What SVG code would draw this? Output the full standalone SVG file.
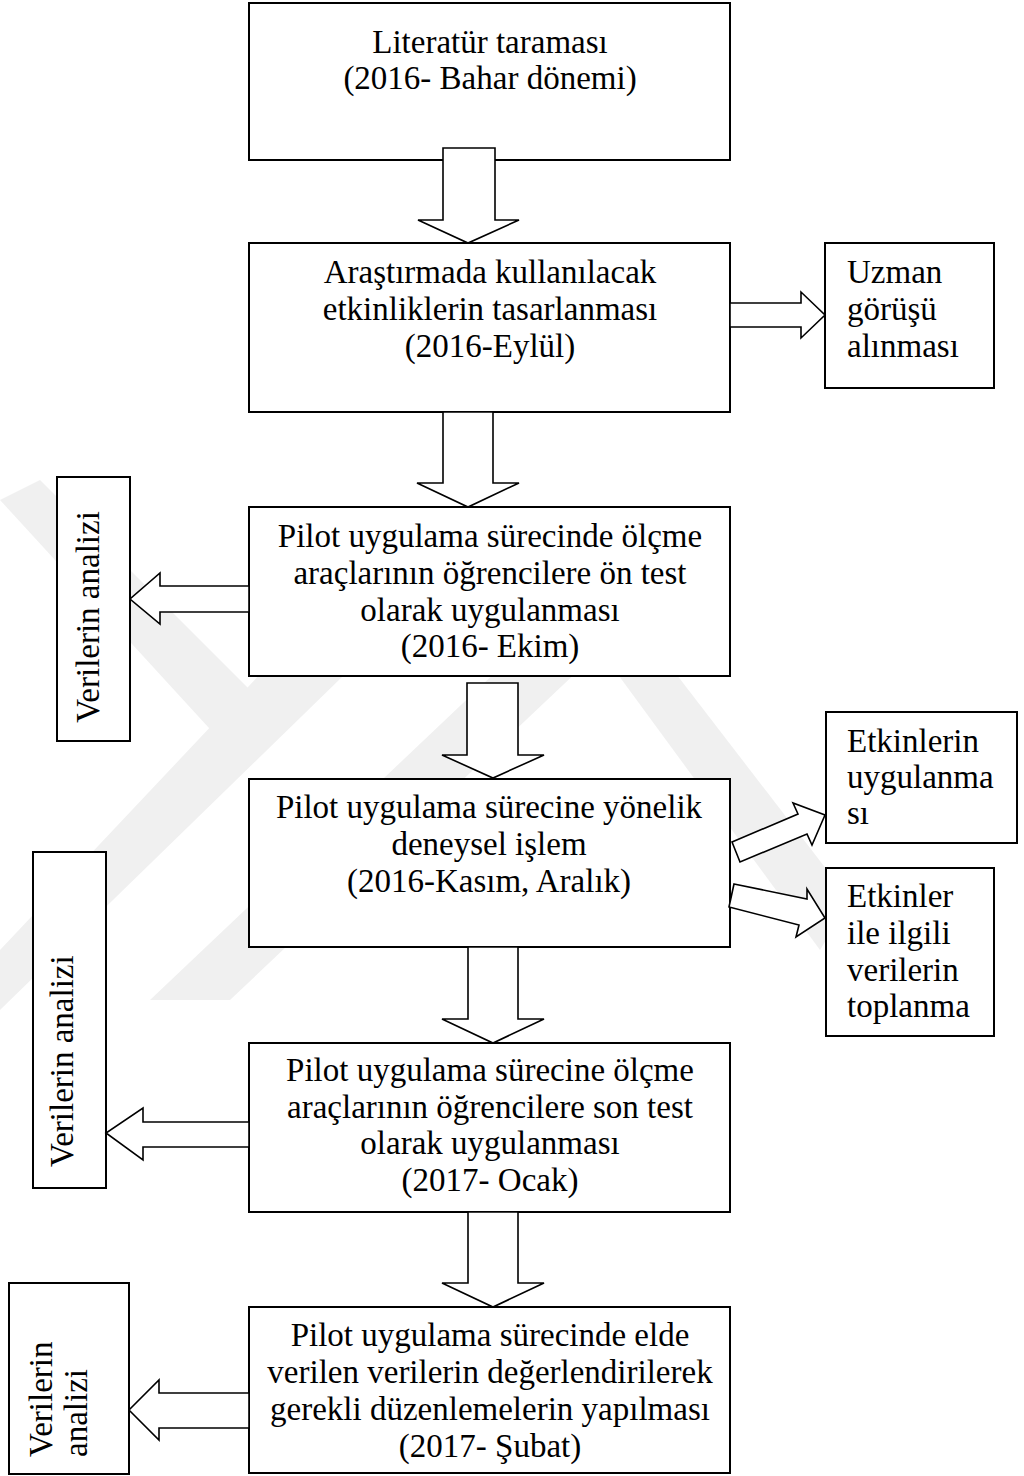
<svg xmlns="http://www.w3.org/2000/svg" width="1024" height="1476" viewBox="0 0 1024 1476">
<style>
.box{fill:#fff;stroke:#000;stroke-width:2}
.arr{fill:#fff;stroke:#000;stroke-width:1.6;stroke-linejoin:miter}
.t{font-family:"Liberation Serif","Times New Roman",serif;font-size:33px;fill:#000}
.c{text-anchor:middle}
.wm{fill:#f0f0f0}
</style>
<rect width="1024" height="1476" fill="#fff"/>
<g id="watermark">
<polygon class="wm" points="0,950 0,1010 380,640 330,600"/>
<polygon class="wm" points="150,1000 230,1000 600,650 540,630"/>
<polygon class="wm" points="600,650 650,640 850,900 820,950"/>
<polygon class="wm" points="0,500 40,480 260,700 220,740"/>
</g>
<g id="node1"><rect class="box" x="249" y="3" width="481" height="157"/>
<text class="t c" x="490" y="53">Literatür taraması</text>
<text class="t c" x="490" y="89">(2016- Bahar dönemi)</text></g>
<g id="node2"><rect class="box" x="249" y="243" width="481" height="169"/>
<text class="t c" x="490" y="283">Araştırmada kullanılacak</text>
<text class="t c" x="490" y="320">etkinliklerin tasarlanması</text>
<text class="t c" x="490" y="357">(2016-Eylül)</text></g>
<g id="node3"><rect class="box" x="825" y="243" width="169" height="145"/>
<text class="t" x="847" y="283">Uzman</text>
<text class="t" x="847" y="320">görüşü</text>
<text class="t" x="847" y="357">alınması</text></g>
<g id="node4"><rect class="box" x="249" y="507" width="481" height="169"/>
<text class="t c" x="490" y="547">Pilot uygulama sürecinde ölçme</text>
<text class="t c" x="490" y="584">araçlarının öğrencilere ön test</text>
<text class="t c" x="490" y="621">olarak uygulanması</text>
<text class="t c" x="490" y="657">(2016- Ekim)</text></g>
<g id="node5"><rect class="box" x="57" y="477" width="73" height="264"/>
<text class="t c" transform="translate(99,617) rotate(-90)">Verilerin analizi</text></g>
<g id="node6"><rect class="box" x="249" y="779" width="481" height="168"/>
<text class="t c" x="489" y="818">Pilot uygulama sürecine yönelik</text>
<text class="t c" x="489" y="855">deneysel işlem</text>
<text class="t c" x="489" y="892">(2016-Kasım, Aralık)</text></g>
<g id="node7"><rect class="box" x="826" y="712" width="191" height="131"/>
<text class="t" x="847" y="752">Etkinlerin</text>
<text class="t" x="847" y="788">uygulanma</text>
<text class="t" x="847" y="824">sı</text></g>
<g id="node8"><rect class="box" x="826" y="868" width="168" height="168"/>
<text class="t" x="847" y="907">Etkinler</text>
<text class="t" x="847" y="944">ile ilgili</text>
<text class="t" x="847" y="981">verilerin</text>
<text class="t" x="847" y="1017">toplanma</text></g>
<g id="node9"><rect class="box" x="249" y="1043" width="481" height="169"/>
<text class="t c" x="490" y="1081">Pilot uygulama sürecine ölçme</text>
<text class="t c" x="490" y="1118">araçlarının öğrencilere son test</text>
<text class="t c" x="490" y="1154">olarak uygulanması</text>
<text class="t c" x="490" y="1191">(2017- Ocak)</text></g>
<g id="node10"><rect class="box" x="33" y="852" width="73" height="336"/>
<text class="t" transform="translate(73,1167) rotate(-90)">Verilerin analizi</text></g>
<g id="node11"><rect class="box" x="249" y="1307" width="481" height="166"/>
<text class="t c" x="490" y="1346">Pilot uygulama sürecinde elde</text>
<text class="t c" x="490" y="1383">verilen verilerin değerlendirilerek</text>
<text class="t c" x="490" y="1420">gerekli düzenlemelerin yapılması</text>
<text class="t c" x="490" y="1457">(2017- Şubat)</text></g>
<g id="node12"><rect class="box" x="9" y="1283" width="120" height="191"/>
<text class="t" transform="translate(52,1457) rotate(-90)">Verilerin</text>
<text class="t" transform="translate(87,1457) rotate(-90)">analizi</text></g>
<g id="connectors">
<polygon class="arr" points="443,148 495,148 495,220 519,220 468,243 418,220 443,220"/>
<polygon class="arr" points="443,412 493,412 493,483 519,483 468,507 417,483 443,483"/>
<polygon class="arr" points="467,683 518,683 518,755 544,755 493,778 442,755 467,755"/>
<polygon class="arr" points="468,947 518,947 518,1019 544,1019 493,1043 442,1019 468,1019"/>
<polygon class="arr" points="468,1212 518,1212 518,1283 544,1283 493,1307 442,1283 468,1283"/>
<polygon class="arr" points="730,303 801,303 801,292 825,315 801,338 801,327 730,327"/>
<polygon class="arr" points="249,586 160,586 160,573 130,599 160,624 160,612 249,612"/>
<polygon class="arr" points="249,1122 143,1122 143,1108 106,1133 143,1160 143,1147 249,1147"/>
<polygon class="arr" points="249,1393 159,1393 159,1380 129,1410 159,1440 159,1428 249,1428"/>
<polygon class="arr" points="732,842 798,814 793,803 825,815 812,845 807,834 740,862"/>
<polygon class="arr" points="734,884 807,899 807,889 825,918 796,937 799,925 729,907"/>
</g>
</svg>
